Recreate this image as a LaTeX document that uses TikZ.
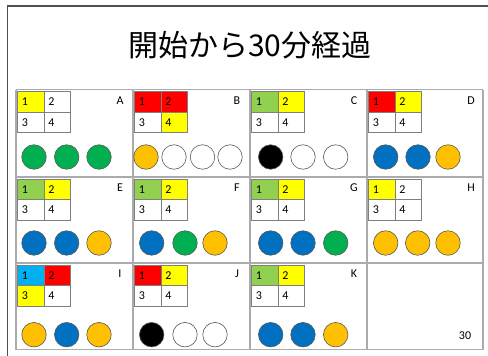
\documentclass[tikz,border=0pt]{standalone}
\usepackage{fontspec}
\setmainfont{Carlito}
\newfontfamily\jpfont{Noto Sans CJK JP}
\definecolor{cyel}{HTML}{FFFF00}
\definecolor{cred}{HTML}{FF0000}
\definecolor{clgr}{HTML}{92D050}
\definecolor{ccya}{HTML}{00B0F0}
\definecolor{cdgr}{HTML}{00B050}
\definecolor{cblu}{HTML}{0070C0}
\definecolor{cora}{HTML}{FFC000}
\definecolor{cwht}{HTML}{FFFFFF}
\definecolor{cblk}{HTML}{000000}
\definecolor{gridgray}{HTML}{ABABAB}
\definecolor{framegray}{HTML}{505050}
\definecolor{tabgray}{HTML}{7F7F7F}
\tikzset{
  subcell/.style={draw=tabgray, line width=0.8pt, rectangle, minimum width=26.5pt, minimum height=20.5pt,
    inner xsep=4.5pt, inner ysep=0pt, text width=17.5pt, align=left, font=\fontsize{12}{13}\selectfont},
  dot/.style={circle, draw=black!65, line width=0.6pt, minimum size=24.5pt, inner sep=0pt},
  letterlbl/.style={font=\fontsize{12}{13}\selectfont, inner sep=0pt},
  gridline/.style={draw=gridgray, line width=1.2pt},
  frameline/.style={draw=framegray, line width=1.5pt}
}
\newcommand\panel[7]{%
  \foreach \tc [count=\k from 0] in {#5} {
    \pgfmathtruncatemacro\cc{mod(\k,2)}
    \pgfmathtruncatemacro\rr{div(\k,2)}
    \pgfmathtruncatemacro\nn{\k+1}
    \node[subcell, fill=\tc, anchor=north west] (#1t\nn) at ({#2+1+\cc*26.5},{#3+1.5+\rr*20.5}) {\nn};
  }
  \node[letterlbl] (#1l) at ({#2+104},{#3+11}) {#4};
  \foreach \cx/\ccol [count=\i] in {#6} {
    \node[dot, fill=\ccol] (#1c\i) at ({#2+\cx},{#3+#7}) {};
  }
}
\begin{document}
\begin{tikzpicture}[x=1pt,y=-1pt]
\useasboundingbox (0,0) rectangle (488,356);
% slide frame
\draw[frameline] (7.5,360) -- (7.5,6) -- (492,6);
% title
\node[font=\jpfont\fontsize{30}{34}\selectfont, inner sep=0pt] (title) at (250,45) {開始から30分経過};
% grid
\foreach \gx in {16,133,250,367,483} { \draw[gridline] (\gx,89.5) -- (\gx,349.5); }
\foreach \gy in {89.5,177,263,349.5} { \draw[gridline] (16,\gy) -- (483,\gy); }
% panels
\panel{A}{16}{89.5}{A}{cyel,cwht,cwht,cwht}{18/cdgr,50.7/cdgr,83/cdgr}{67.5}
\panel{B}{133}{89.5}{B}{cred,cred,cwht,cyel}{13/cora,41/cwht,69.5/cwht,97/cwht}{67.5}
\panel{C}{250}{89.5}{C}{clgr,cyel,cwht,cwht}{20.7/cblk,53/cwht,85.7/cwht}{67.5}
\panel{D}{367}{89.5}{D}{cred,cyel,cwht,cwht}{18.7/cblu,51/cblu,81/cora}{67.5}
\panel{E}{16}{177}{E}{clgr,cyel,cwht,cwht}{18/cblu,50.7/cblu,83/cora}{66}
\panel{F}{133}{177}{F}{clgr,cyel,cwht,cwht}{18.7/cblu,52/cdgr,82/cora}{66}
\panel{G}{250}{177}{G}{clgr,cyel,cwht,cwht}{20.7/cblu,53/cblu,85.7/cdgr}{66}
\panel{H}{367}{177}{H}{cyel,cwht,cwht,cwht}{18.7/cora,50.7/cora,81/cora}{66}
\panel{I}{16}{263}{I}{ccya,cred,cyel,cwht}{18/cora,50.7/cblu,83/cora}{71.7}
\panel{J}{133}{263}{J}{cred,cyel,cwht,cwht}{18.7/cblk,52/cwht,82/cwht}{71.7}
\panel{K}{250}{263}{K}{clgr,cyel,cwht,cwht}{20.7/cblu,53/cblu,85.7/cora}{71.7}
\node[letterlbl] (pagenum) at (465,336) {30};
\end{tikzpicture}
\end{document}
